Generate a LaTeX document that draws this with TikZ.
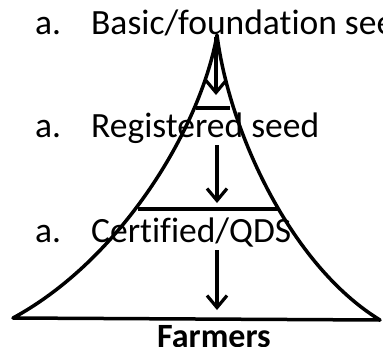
\documentclass[tikz,border=0pt]{standalone}
\usepackage{fontspec}
\setmainfont[Ligatures=NoCommon]{Carlito}
\usepackage{tikz}
\usetikzlibrary{arrows.meta}

\begin{document}
\begin{tikzpicture}[
    x=1pt, y=-1pt,
    outline/.style={line width=3.5pt, line join=round},
    flow/.style={-{Straight Barb[length=12pt, width=20pt]}, line width=3.2pt},
    level/.style={anchor=base west, inner sep=0pt, font=\fontsize{35.5}{42}\selectfont},
    sink/.style={anchor=base, inner sep=0pt, font=\fontsize{34}{40}\selectfont\bfseries},
]
\useasboundingbox (0,0) rectangle (383,346);

% Seed levels
\node[level] (basic) at (35,34) {\makebox[56pt][l]{a.}Basic/foundation seed};
\node[level] (registered) at (35,137) {\makebox[56pt][l]{a.}Registered seed};
\node[level] (certified) at (35,242) {\makebox[56pt][l]{a.}Certified/QDS};
\node[sink] (farmers) at (214,347) {Farmers};

% Pyramid outline
\coordinate (apex) at (217,35);
\coordinate (bl) at (13,318);
\coordinate (br) at (380,320);
\draw[outline] (bl) .. controls (120,260) and (200,130) .. (apex)
    .. controls (229,130) and (290,265) .. (br) -- cycle;
\draw[outline] (196,108) -- (230,108);
\draw[outline] (138,209) -- (278,209);

% Flow arrows
\coordinate (a1) at (216,37);
\coordinate (b1) at (216,95);
\coordinate (a2) at (217,145);
\coordinate (b2) at (217,203);
\coordinate (a3) at (217,250);
\coordinate (b3) at (217,310);
\draw[flow] (a1) -- (b1);
\draw[flow] (a2) -- (b2);
\draw[flow] (a3) -- (b3);

\end{tikzpicture}
\end{document}
